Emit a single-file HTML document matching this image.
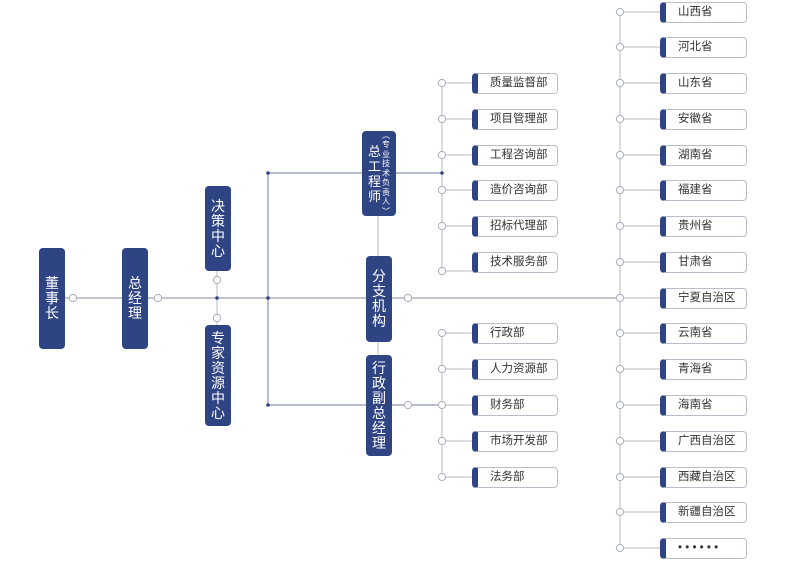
<!DOCTYPE html>
<html><head><meta charset="utf-8">
<style>
*{margin:0;padding:0;box-sizing:border-box}
body{width:800px;height:562px;background:#fff;position:relative;overflow:hidden;font-family:"Liberation Sans","Noto Sans CJK SC",sans-serif}
svg{position:absolute;left:0;top:0}
.v{position:absolute;background:#2f4482;border-radius:4px;color:#fff;font-size:14px;line-height:15px;text-align:center;display:flex;flex-direction:column;justify-content:center;align-items:center}
.d{position:absolute;height:21px;border:1px solid #b9bdc9;border-left:6px solid #2f4482;border-radius:4px;background:#fff;font-size:11.5px;color:#333;line-height:19px;padding-left:12px}
</style></head><body>
<svg width="800" height="562">
<g stroke="#c3c6d0" stroke-width="1.2" fill="none">
<line x1="64" y1="298" x2="620" y2="298" stroke-width="2"/>
<line x1="217" y1="271" x2="217" y2="325"/>
<line x1="268" y1="173" x2="268" y2="405" stroke="#8c94b0"/>
<line x1="268" y1="173" x2="442" y2="173" stroke="#8c94b0"/>
<line x1="268" y1="405" x2="442" y2="405" stroke="#8c94b0"/>
<line x1="378" y1="215" x2="378" y2="355"/>
<line x1="442" y1="83" x2="442" y2="271"/>
<line x1="442" y1="333" x2="442" y2="477"/>
<line x1="620" y1="12" x2="620" y2="548"/>
<g>
<line x1="442" y1="83" x2="473" y2="83"/><line x1="442" y1="119" x2="473" y2="119"/><line x1="442" y1="155" x2="473" y2="155"/><line x1="442" y1="190" x2="473" y2="190"/><line x1="442" y1="226" x2="473" y2="226"/><line x1="442" y1="271" x2="473" y2="271"/>
<line x1="442" y1="333" x2="473" y2="333"/><line x1="442" y1="369" x2="473" y2="369"/><line x1="442" y1="405" x2="473" y2="405"/><line x1="442" y1="441" x2="473" y2="441"/><line x1="442" y1="477" x2="473" y2="477"/>
</g>
<g id="pl"></g>
</g>
<g fill="#2f4482"><circle cx="268" cy="173" r="1.8"/><circle cx="268" cy="298" r="1.8"/><circle cx="268" cy="405" r="1.8"/><circle cx="217" cy="298" r="1.8"/><circle cx="442" cy="173" r="1.8"/></g>
<g id="cc" fill="#fff" stroke="#a9adbb" stroke-width="1"></g>
</svg>
<div class="v" style="left:39px;top:248px;width:26px;height:101px">董<br>事<br>长</div>
<div class="v" style="left:122px;top:248px;width:26px;height:101px">总<br>经<br>理</div>
<div class="v" style="left:205px;top:186px;width:26px;height:85px">决<br>策<br>中<br>心</div>
<div class="v" style="left:205px;top:325px;width:26px;height:101px">专<br>家<br>资<br>源<br>中<br>心</div>
<div class="v" style="left:362px;top:131px;width:34px;height:85px;flex-direction:row;gap:1px">
<div style="font-size:13px;line-height:15px">总<br>工<br>程<br>师</div>
<div style="font-size:8px;line-height:9.5px">︵<br>专<br>业<br>技<br>术<br>负<br>责<br>人<br>︶</div></div>
<div class="v" style="left:366px;top:256px;width:26px;height:86px">分<br>支<br>机<br>构</div>
<div class="v" style="left:366px;top:355px;width:26px;height:101px">行<br>政<br>副<br>总<br>经<br>理</div>
<div id="boxes"></div>
<script>
var b=document.getElementById('boxes'),h='';
var L=[['质量监督部',83],['项目管理部',119],['工程咨询部',155],['造价咨询部',190],['招标代理部',226],['技术服务部',262],['行政部',333],['人力资源部',369],['财务部',405],['市场开发部',441],['法务部',477]];
L.forEach(function(a){h+='<div class="d" style="left:472px;top:'+(a[1]-10)+'px;width:86px">'+a[0]+'</div>';});
var P=['山西省','河北省','山东省','安徽省','湖南省','福建省','贵州省','甘肃省','宁夏自治区','云南省','青海省','海南省','广西自治区','西藏自治区','新疆自治区','• • • • • •'];
var ys=[12,47,83,119,155,190,226,262,298,333,369,405,441,477,512,548];
var pl='',cc='';
P.forEach(function(p,i){var y=ys[i];h+='<div class="d" style="left:660px;top:'+(y-10)+'px;width:87px">'+p+'</div>';pl+='<line x1="620" y1="'+y+'" x2="661" y2="'+y+'"/>';cc+='<circle cx="620" cy="'+y+'" r="3.6"/>';});
[83,119,155,190,226,271,333,369,405,441,477].forEach(function(y){cc+='<circle cx="442" cy="'+y+'" r="3.6"/>';});
[[73,298],[158,298],[217,280],[217,318],[408,298],[408,405]].forEach(function(c){cc+='<circle cx="'+c[0]+'" cy="'+c[1]+'" r="3.6"/>';});
b.innerHTML=h;
document.getElementById('pl').innerHTML=pl;
document.getElementById('cc').innerHTML=cc;
</script>
</body></html>
